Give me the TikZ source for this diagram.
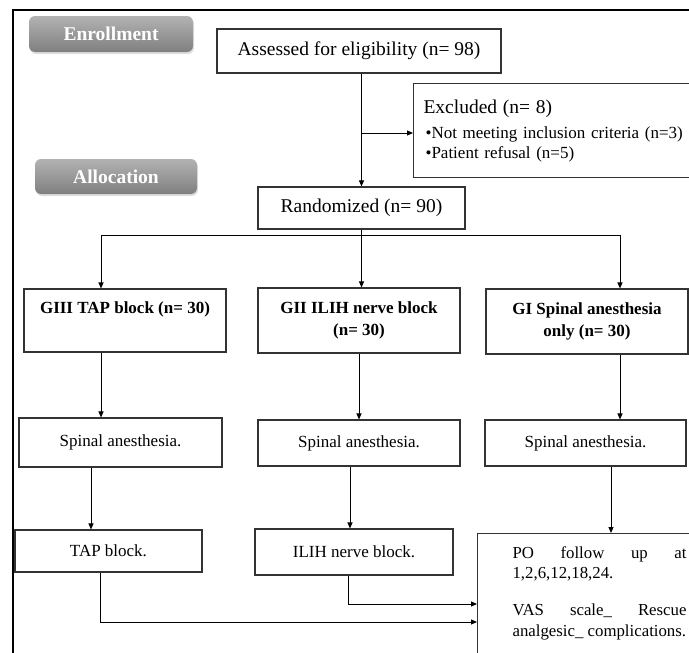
\documentclass[tikz,border=0pt]{standalone}
\usepackage{fontspec}
\setmainfont{Liberation Serif}
\usetikzlibrary{arrows.meta,shadows}
\begin{document}
\begin{tikzpicture}[x=1pt,y=-1pt,
  box/.style={draw=black!80, line width=1.1pt, fill=white, inner sep=0pt, align=center},
  arr/.style={-{Triangle[length=6pt,width=5pt]}, line width=1pt},
  lnk/.style={line width=1pt},
  phase/.style={rounded corners=6pt, top color=black!30, bottom color=black!50, text=white,
    font=\fontsize{19.5}{22}\selectfont\bfseries, inner sep=0pt,
    drop shadow={opacity=0.25, shadow xshift=1pt, shadow yshift=-2pt}},
  hfont/.style={font=\fontsize{19.5}{23}\selectfont},
  bfont/.style={font=\fontsize{17}{22}\selectfont},
  gfont/.style={font=\fontsize{17}{22}\selectfont\bfseries}]
\clip (0,0) rectangle (689,653);
\fill[white] (0,0) rectangle (689,653);
% outer frame
\draw[line width=1.3pt] (689,10) -- (13,10) -- (13,653);
% phase labels
\node[phase, minimum width=164pt, minimum height=36pt] (enroll) at (111,34) {Enrollment};
\node[phase, minimum width=162pt, minimum height=35pt] (alloc) at (116,176.5) {Allocation};
% boxes
\node[box, hfont, minimum width=284pt, minimum height=44pt] (assess) at (359,51) {Assessed for eligibility (n= 98)};
\node[box, anchor=north west, align=left, text width=280pt, inner xsep=10pt, minimum height=94pt,
  font=\fontsize{17}{20}\selectfont] (excl) at (413,83)
  {{\fontsize{19.5}{22}\selectfont Excluded (n= 8)}\\[5pt]
   \hspace{2pt}•Not meeting inclusion criteria (n=3)\\
   \hspace{2pt}•Patient refusal (n=5)};
\node[box, hfont, minimum width=207pt, minimum height=42pt] (rand) at (361.5,208) {Randomized (n= 90)};
\node[box, gfont, minimum width=202pt, minimum height=63pt] (g3) at (125,320.5) {GIII TAP block (n= 30)\\\mbox{\phantom{(}}};
\node[box, gfont, minimum width=202pt, minimum height=65pt] (g2) at (359,320.5) {GII ILIH nerve block\\(n= 30)};
\node[box, gfont, minimum width=202pt, minimum height=65pt] (g1) at (587,321.5) {GI Spinal anesthesia\\only (n= 30)};
\node[box, bfont, minimum width=203pt, minimum height=49pt] (s3) at (120.5,442.5) {Spinal anesthesia.};
\node[box, bfont, minimum width=202pt, minimum height=46pt] (s2) at (359,443) {Spinal anesthesia.};
\node[box, bfont, minimum width=201pt, minimum height=46pt] (s1) at (585.5,443) {Spinal anesthesia.};
\node[box, bfont, minimum width=187pt, minimum height=42pt] (tap) at (108.5,551) {TAP block.};
\node[box, bfont, minimum width=198pt, minimum height=46pt] (ilih) at (354,552) {ILIH nerve block.};
\node[box, anchor=north west, align=justify, text width=174pt, inner xsep=35pt, inner ysep=13pt,
  font=\fontsize{16.8}{20.5}\selectfont] (po) at (477,533)
  {\setlength{\parskip}{16.5pt}\sloppy\hyphenpenalty=10000\exhyphenpenalty=10000
   PO follow up at 1,2,6,12,18,24.\par
   VAS scale\_ Rescue analgesic\_ complications.\par
   \rule{0pt}{40pt}};
% coordinates
\coordinate (j) at (361.5,133);
\coordinate (xl) at (101,235);
\coordinate (xr) at (620,235);
\coordinate (c1) at (91,0);
\coordinate (c2) at (350,0);
\coordinate (c3) at (611,0);
\coordinate (c4) at (100,622);
\coordinate (c5) at (348,604);
% connectors
\draw[arr] (assess.south -| rand.north) -- (rand.north);
\draw[arr] (j) -- (j -| excl.west);
\draw[lnk] (xl) -- (xr);
\draw[arr] (rand.south) -- (rand.south |- g2.north);
\draw[arr] (xl) -- (xl |- g3.north);
\draw[arr] (xr) -- (xr |- g1.north);
\draw[arr] (g3.south -| xl) -- (s3.north -| xl);
\draw[arr] (g2.south) -- (s2.north);
\draw[arr] (g1.south -| xr) -- (s1.north -| xr);
\draw[arr] (s3.south -| c1) -- (tap.north -| c1);
\draw[arr] (s2.south -| c2) -- (ilih.north -| c2);
\draw[arr] (s1.south -| c3) -- (po.north -| c3);
\draw[arr] (tap.south -| c4) |- (po.west |- c4);
\draw[arr] (ilih.south -| c5) |- (po.west |- c5);
\end{tikzpicture}
\end{document}
